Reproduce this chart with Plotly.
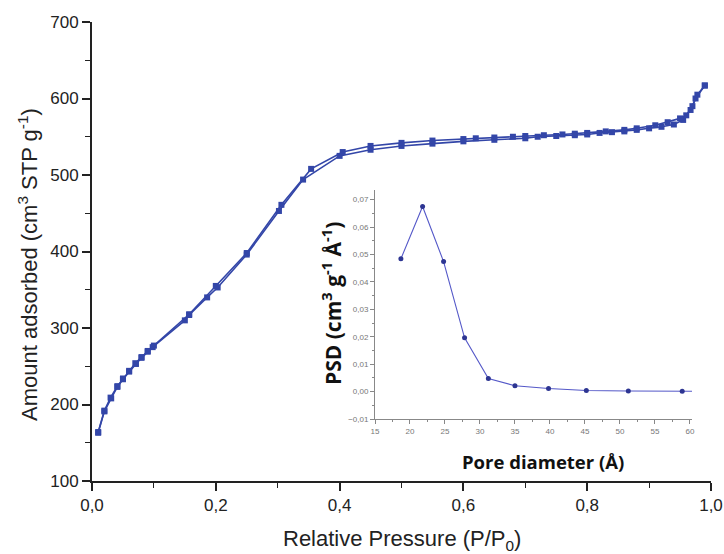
import plotly.graph_objects as go

# Main isotherm data (P/P0 vs amount adsorbed)
ads_p = [0.010, 0.020, 0.031, 0.041, 0.050, 0.060, 0.071, 0.080, 0.090, 0.098,
         0.150, 0.157, 0.186, 0.203, 0.250, 0.302, 0.341, 0.400, 0.450, 0.500,
         0.550, 0.600, 0.650, 0.700, 0.720, 0.750, 0.780, 0.800, 0.820, 0.840,
         0.860, 0.880, 0.900, 0.920, 0.940, 0.955, 0.967, 0.975, 0.990]
ads_v = [163, 191, 208, 223, 233, 243, 253, 261, 269, 275,
         310, 317, 340, 353, 396, 453, 494, 525, 533, 538,
         541, 544, 546, 548, 550, 551, 552, 553, 555, 556,
         557, 559, 561, 563, 566, 572, 585, 600, 617]
des_p = [0.990, 0.978, 0.970, 0.960, 0.950, 0.930, 0.910, 0.880, 0.860, 0.830,
         0.800, 0.780, 0.760, 0.730, 0.700, 0.680, 0.650, 0.620, 0.600, 0.550,
         0.500, 0.450, 0.405, 0.354, 0.306, 0.250, 0.200, 0.157, 0.100, 0.090,
         0.080, 0.070, 0.060, 0.050, 0.041, 0.030, 0.020, 0.010]
des_v = [617, 605, 590, 578, 574, 569, 565, 561, 559, 557,
         555, 554, 553, 552, 551, 550, 549, 548, 547, 545,
         542, 538, 530, 508, 461, 398, 355, 318, 277, 270,
         262, 254, 244, 234, 224, 209, 192, 164]

# Inset: pore size distribution
pore_d = [18.7, 21.8, 24.8, 27.8, 31.2, 35.0, 39.8, 45.2, 51.2, 58.9]
psd = [0.0484, 0.0675, 0.0474, 0.0196, 0.0048, 0.0021, 0.0011, 0.0004, 0.0002, 0.0001]

x_ticks = [0.0, 0.2, 0.4, 0.6, 0.8, 1.0]
y_ticks = [100, 200, 300, 400, 500, 600, 700]
inset_x_ticks = [15, 20, 25, 30, 35, 40, 45, 50, 55, 60]
inset_y_ticks = [-0.01, 0.00, 0.01, 0.02, 0.03, 0.04, 0.05, 0.06, 0.07]

BLUE = "#3346a8"
INSET_BLUE = "#5458c8"

fig = go.Figure()
fig.add_trace(go.Scatter(x=ads_p, y=ads_v, mode="lines+markers",
                         line=dict(color=BLUE, width=1.6),
                         marker=dict(symbol="square", size=6, color=BLUE),
                         xaxis="x", yaxis="y", showlegend=False))
fig.add_trace(go.Scatter(x=des_p, y=des_v, mode="lines+markers",
                         line=dict(color=BLUE, width=1.6),
                         marker=dict(symbol="square", size=6, color=BLUE),
                         xaxis="x", yaxis="y", showlegend=False))
fig.add_trace(go.Scatter(x=pore_d + [60.3], y=psd + [0.0001], mode="lines",
                         line=dict(color=INSET_BLUE, width=1.1),
                         xaxis="x2", yaxis="y2", showlegend=False, hoverinfo="skip"))
fig.add_trace(go.Scatter(x=pore_d, y=psd, mode="markers",
                         marker=dict(symbol="circle", size=5, color="#2d3592"),
                         xaxis="x2", yaxis="y2", showlegend=False))

W, H = 724, 554
L, R, T, B = 92, 711, 22, 481   # plot area in page pixels


def px_x(p):
    return (p - L) / (R - L)


def px_y(p):
    return (B - p) / (B - T)


tick_font = dict(family="Liberation Sans, Arial, sans-serif", size=17, color="#222")
title_font = dict(family="Liberation Sans, Arial, sans-serif", size=22, color="#222")
inset_tick_font = dict(family="Liberation Sans, Arial, sans-serif", size=8, color="#777")

fig.update_layout(
    width=W, height=H,
    margin=dict(l=L, r=W - R, t=T, b=H - B),
    paper_bgcolor="white", plot_bgcolor="white",
    separators=",.",
    xaxis=dict(range=[0, 1.0], domain=[0, 1], tickvals=x_ticks, tickformat=".1f",
               automargin=False,
               showline=True, linecolor="#222", linewidth=1.8,
               ticks="outside", ticklen=8, tickwidth=1.6, tickcolor="#222",
               minor=dict(dtick=0.1, ticks="outside", ticklen=5, tickwidth=1.4, tickcolor="#222"),
               showgrid=False, zeroline=False, tickfont=tick_font),
    yaxis=dict(range=[100, 700], domain=[0, 1], tickvals=y_ticks, automargin=False,
               showline=True, linecolor="#222", linewidth=1.8,
               ticks="outside", ticklen=8, tickwidth=1.6, tickcolor="#222",
               minor=dict(dtick=50, ticks="outside", ticklen=5, tickwidth=1.4, tickcolor="#222"),
               showgrid=False, zeroline=False, tickfont=tick_font),
    xaxis2=dict(range=[15, 60.3], domain=[px_x(375), px_x(692)], anchor="y2", automargin=False,
                tickvals=inset_x_ticks, showline=True, linecolor="#888", linewidth=1,
                ticks="outside", ticklen=4, tickwidth=1, tickcolor="#888",
                minor=dict(dtick=2.5, ticks="outside", ticklen=2, tickcolor="#888"),
                showgrid=False, zeroline=False, tickfont=inset_tick_font),
    yaxis2=dict(range=[-0.01, 0.0735], domain=[px_y(419), px_y(190)], anchor="x2", automargin=False,
                tickvals=inset_y_ticks, tickformat=".2f", showline=True, linecolor="#888", linewidth=1,
                ticks="outside", ticklen=4, tickwidth=1, tickcolor="#888",
                minor=dict(dtick=0.005, ticks="outside", ticklen=2, tickcolor="#888"),
                showgrid=False, zeroline=False, tickfont=inset_tick_font),
    annotations=[
        dict(text="Relative Pressure (P/P<sub>0</sub>)", xref="paper", yref="paper",
             x=px_x(402), y=px_y(540), xanchor="center", yanchor="middle", showarrow=False,
             font=title_font),
        dict(text="Amount adsorbed (cm<sup>3</sup> STP g<sup>-1</sup>)", xref="paper", yref="paper",
             x=px_x(28), y=px_y(265), xanchor="center", yanchor="middle", textangle=-90,
             showarrow=False, font=title_font),
        dict(text="<b>Pore diameter (Å)</b>", xref="paper", yref="paper",
             x=px_x(543), y=px_y(461), xanchor="center", yanchor="middle", showarrow=False,
             font=dict(family="Open Sans, sans-serif", size=18.5, color="#111")),
        dict(text="<b>PSD (cm<sup>3</sup> g<sup>-1</sup> Å<sup>-1</sup>)</b>", xref="paper", yref="paper",
             x=px_x(331), y=px_y(304), xanchor="center", yanchor="middle", textangle=-90,
             showarrow=False,
             font=dict(family="Open Sans, sans-serif", size=21, color="#111")),
    ],
)

fig.write_html("out.html", config={"displayModeBar": False},
               post_script="document.body.style.margin='0';document.body.style.overflow='hidden';")
